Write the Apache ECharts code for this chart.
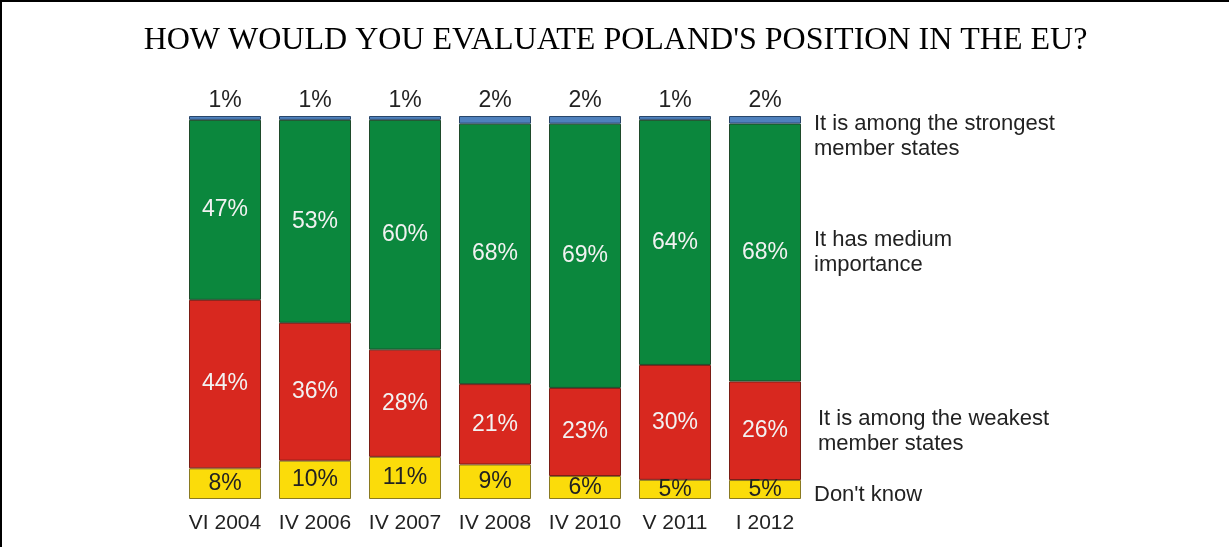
<!DOCTYPE html>
<html>
<head>
<meta charset="utf-8">
<script src="https://cdn.jsdelivr.net/npm/echarts@6/dist/echarts.min.js"></script>
<style>
html,body{margin:0;padding:0;background:#fff;}
#c{width:1229px;height:547px;box-sizing:border-box;border-left:2px solid #000;border-top:2px solid #000;}
</style>
</head>
<body>
<div id="c"></div>
<script>
const categories = ['VI 2004','IV 2006','IV 2007','IV 2008','IV 2010','V 2011','I 2012'];
const dontKnow = [8,10,11,9,6,5,5];
const weakest = [44,36,28,21,23,30,26];
const medium = [47,53,60,68,69,64,68];
const strongest = [1,1,1,2,2,1,2];
const seriesNames = ["Don't know","It is among the weakest\nmember states","It has medium\nimportance","It is among the strongest\nmember states"];

const totals = categories.map((_, i) => dontKnow[i] + weakest[i] + medium[i] + strongest[i]);
const norm = arr => arr.map((v, i) => ({ value: v / totals[i] * 100, raw: v }));

const chart = echarts.init(document.getElementById('c'));
const FF = 'Liberation Sans, Arial, sans-serif';
const labelFont = { fontFamily: FF, fontSize: 23 };

function mk(name, arr, color, border, labelColor, pos) {
  return {
    name, type: 'bar', stack: 's', barCategoryGap: '20%',
    data: norm(arr),
    itemStyle: { color, borderColor: border, borderWidth: 1 },
    label: Object.assign({ show: true, position: pos, distance: 4, color: labelColor,
      formatter: p => p.data.raw + '%' }, labelFont)
  };
}

const sideFont = '22px Liberation Sans, Arial, sans-serif';
chart.setOption({
  animation: false,
  title: {
    text: "HOW WOULD YOU EVALUATE POLAND'S POSITION IN THE EU?",
    left: 'center', top: 18,
    textStyle: { fontFamily: 'Liberation Serif, Times New Roman, serif', fontWeight: 'normal', fontSize: 32, color: '#000' }
  },
  grid: { left: 178, right: 419, top: 114, bottom: 48 },
  xAxis: {
    type: 'category', data: categories,
    axisLine: { show: false }, axisTick: { show: false },
    axisLabel: { interval: 0, hideOverlap: false, color: '#222', fontFamily: FF, fontSize: 21, margin: 14 }
  },
  yAxis: { type: 'value', min: 0, max: 100, show: false, splitLine: { show: false } },
  series: [
    mk(seriesNames[0], dontKnow, '#fbdc0a', '#8a7a20', '#222', 'inside'),
    mk(seriesNames[1], weakest, '#d8281f', '#7a1d14', '#f2f2f2', 'inside'),
    mk(seriesNames[2], medium, '#0b873d', '#1f4a2a', '#f2f2f2', 'inside'),
    mk(seriesNames[3], strongest, '#4f81bd', '#28466a', '#222', 'top')
  ],
  graphic: [
    { type: 'text', left: 812, top: 109, style: { text: seriesNames[3], fill: '#222', font: sideFont, lineHeight: 25 } },
    { type: 'text', left: 812, top: 225, style: { text: seriesNames[2], fill: '#222', font: sideFont, lineHeight: 25 } },
    { type: 'text', left: 816, top: 404, style: { text: seriesNames[1], fill: '#222', font: sideFont, lineHeight: 25 } },
    { type: 'text', left: 812, top: 480, style: { text: seriesNames[0], fill: '#222', font: sideFont, lineHeight: 25 } }
  ]
});
</script>
</body>
</html>
